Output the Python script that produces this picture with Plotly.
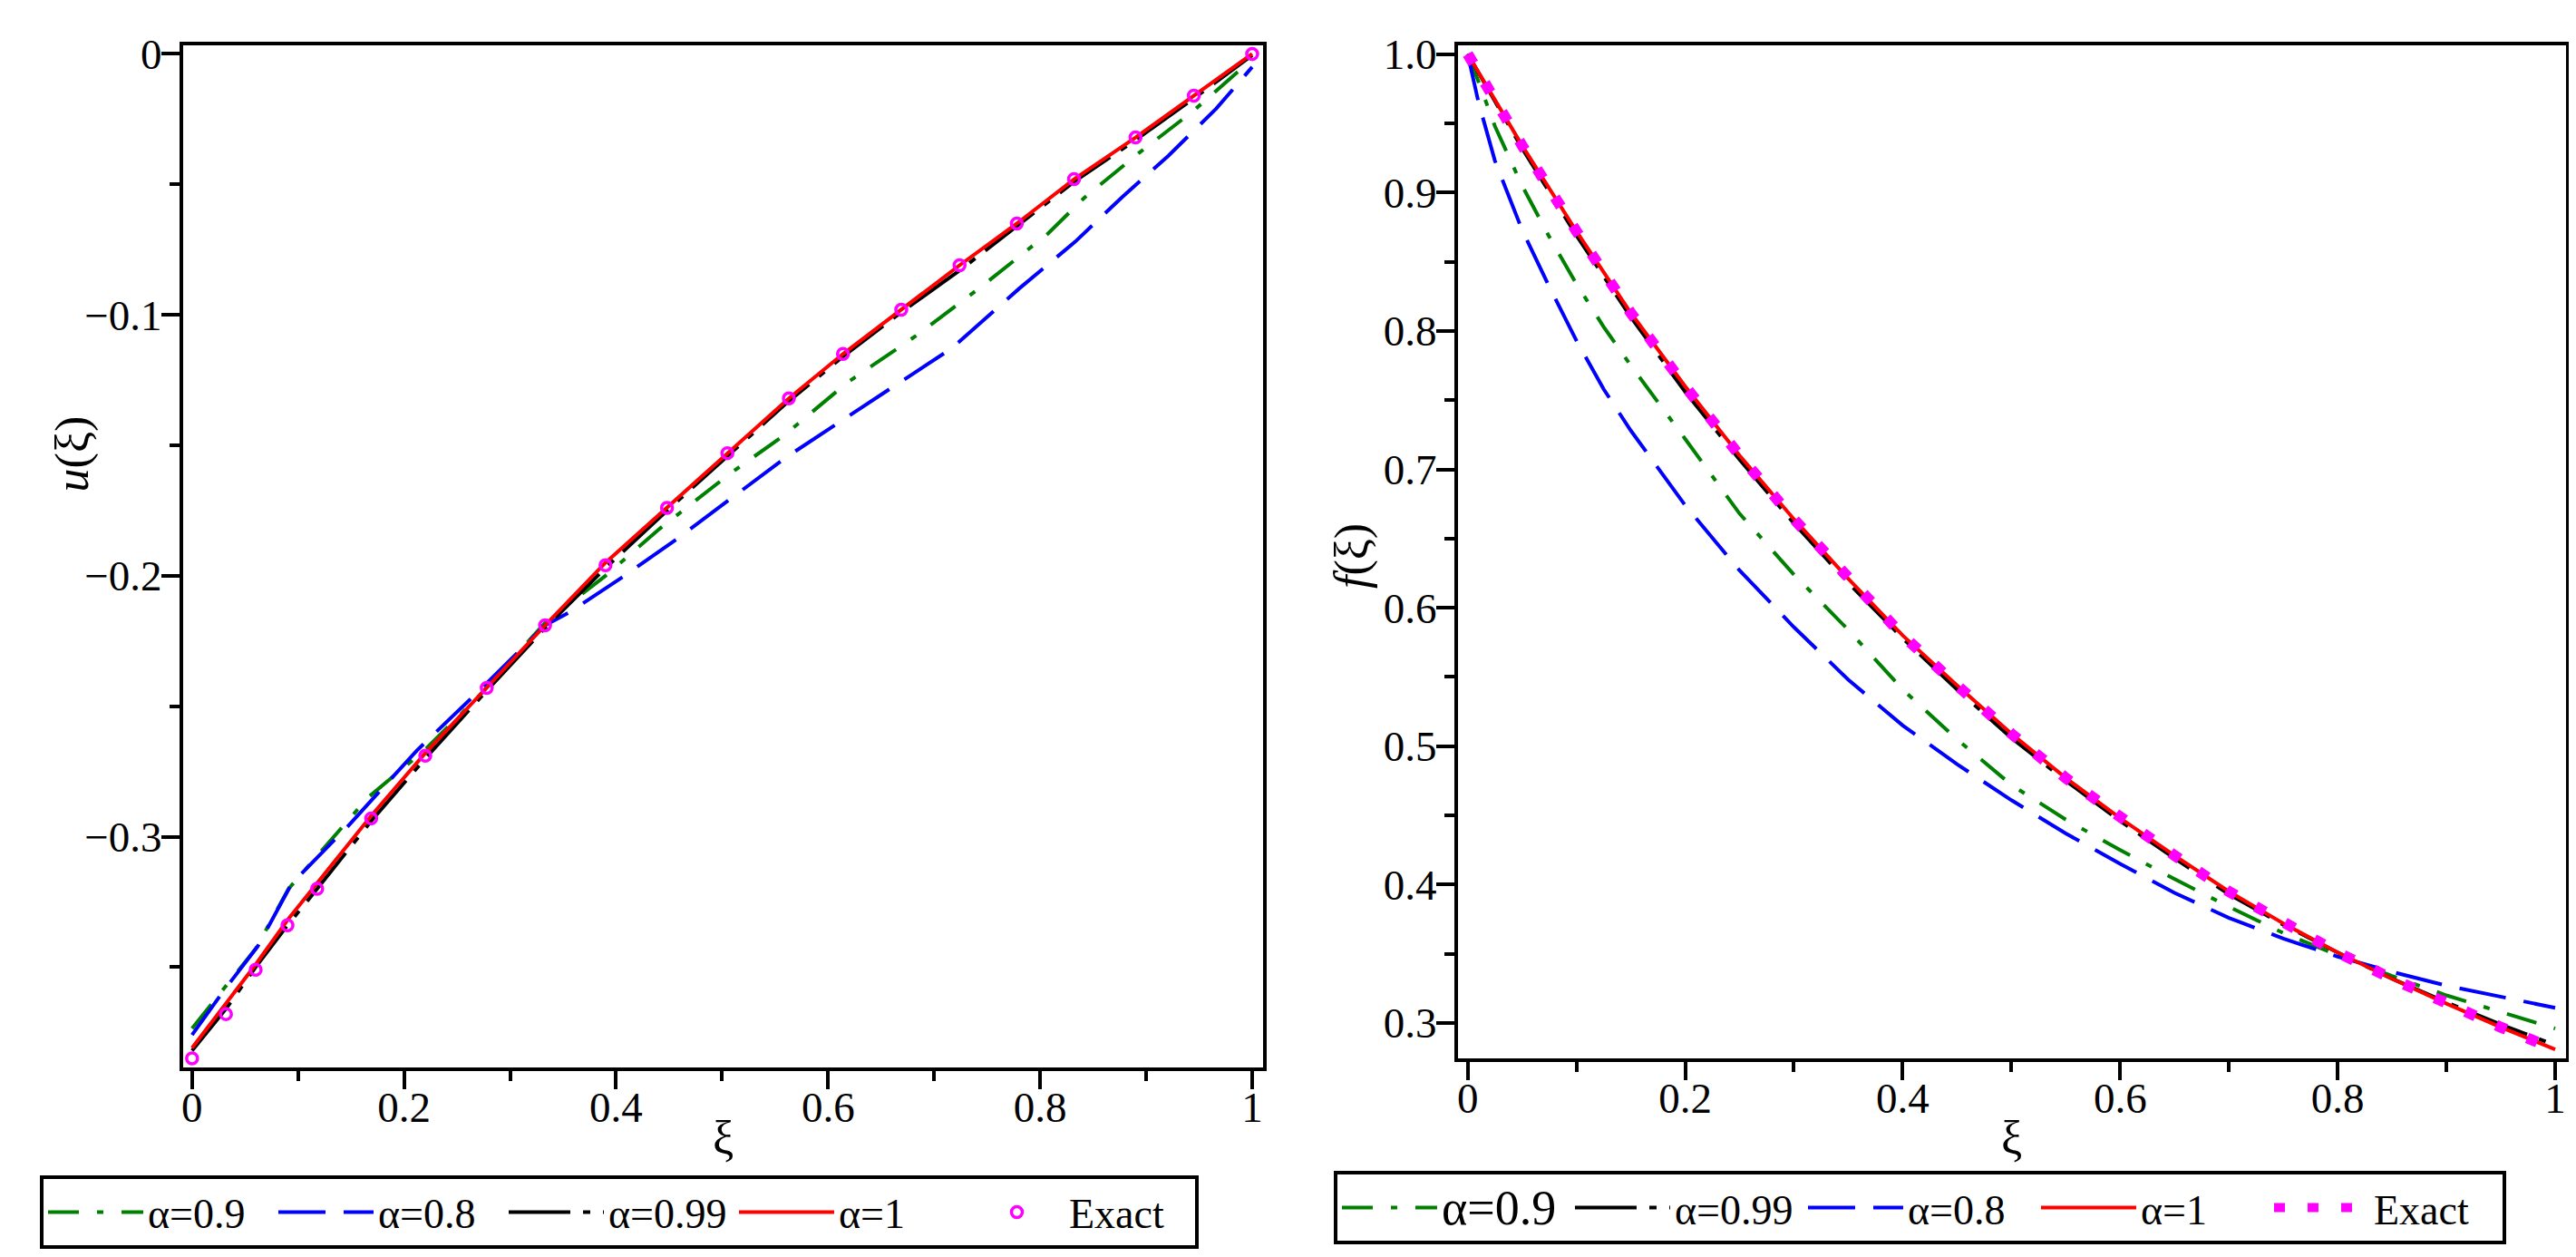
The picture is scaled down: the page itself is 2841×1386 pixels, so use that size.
import plotly.graph_objects as go

W, H = 2841, 1386
FONT = "Liberation Serif"

# ---- left panel : u(xi) ----
xi_u_exact = [0, 0.032, 0.06, 0.09, 0.118, 0.169, 0.22, 0.278, 0.333, 0.39, 0.448,
              0.505, 0.563, 0.614, 0.669, 0.724, 0.778, 0.832, 0.89, 0.945, 1.0]
u_exact = [-0.385, -0.368, -0.351, -0.334, -0.320, -0.293, -0.269, -0.243, -0.219, -0.196, -0.174,
           -0.153, -0.132, -0.115, -0.098, -0.081, -0.065, -0.048, -0.032, -0.016, 0.0]
u_a1 = [-0.381, -0.364, -0.349, -0.332, -0.318, -0.292, -0.268, -0.243, -0.219, -0.195, -0.174,
        -0.153, -0.132, -0.115, -0.098, -0.081, -0.065, -0.048, -0.032, -0.016, 0.0]
u_a099 = [-0.382, -0.366, -0.350, -0.334, -0.320, -0.294, -0.270, -0.244, -0.220, -0.197, -0.175,
          -0.154, -0.133, -0.116, -0.099, -0.083, -0.066, -0.049, -0.033, -0.017, -0.0005]

xi_u_a09 = [0, 0.03, 0.06, 0.091, 0.166, 0.219, 0.271, 0.333, 0.39, 0.441, 0.507,
            0.559, 0.618, 0.683, 0.742, 0.807, 0.842, 0.893, 0.944, 1.0]
u_a09 = [-0.3735, -0.358, -0.343, -0.320, -0.285, -0.267, -0.246, -0.218, -0.200, -0.182, -0.161,
         -0.146, -0.126, -0.108, -0.090, -0.069, -0.055, -0.038, -0.022, -0.002]

xi_u_a08 = [0, 0.03, 0.062, 0.094, 0.147, 0.212, 0.271, 0.333, 0.356, 0.408, 0.457,
            0.507, 0.559, 0.611, 0.664, 0.716, 0.78, 0.833, 0.877, 0.921, 0.966, 1.0]
u_a08 = [-0.376, -0.359, -0.342, -0.318, -0.296, -0.267, -0.244, -0.219, -0.214, -0.200, -0.186,
         -0.171, -0.155, -0.141, -0.127, -0.113, -0.090, -0.072, -0.055, -0.039, -0.021, -0.005]

# ---- right panel : f(xi) ----
xi_f = [0, 0.05, 0.1, 0.15, 0.2, 0.25, 0.3, 0.35, 0.4, 0.45, 0.5,
        0.55, 0.6, 0.65, 0.7, 0.75, 0.8, 0.85, 0.9, 0.95, 1.0]
f_exact = [1.0, 0.934, 0.872, 0.813, 0.760, 0.710, 0.664, 0.621, 0.580, 0.544, 0.509,
           0.477, 0.448, 0.421, 0.395, 0.372, 0.351, 0.332, 0.314, 0.297, 0.281]
f_a1 = [1.0, 0.934, 0.872, 0.813, 0.760, 0.710, 0.664, 0.621, 0.580, 0.544, 0.509,
        0.477, 0.448, 0.421, 0.395, 0.372, 0.351, 0.332, 0.314, 0.297, 0.281]
f_a099 = [1.0, 0.932, 0.869, 0.810, 0.756, 0.707, 0.661, 0.618, 0.578, 0.541, 0.506,
          0.475, 0.446, 0.419, 0.393, 0.371, 0.351, 0.332, 0.315, 0.299, 0.284]

xi_f_a = [0, 0.01, 0.025, 0.05, 0.075, 0.1, 0.125, 0.15, 0.2, 0.25, 0.3, 0.35, 0.4,
          0.45, 0.5, 0.55, 0.6, 0.65, 0.7, 0.75, 0.8, 0.85, 0.9, 0.95, 1.0]
f_a09 = [1.0, 0.980, 0.948, 0.905, 0.868, 0.834, 0.803, 0.775, 0.722, 0.668, 0.624, 0.584, 0.541,
         0.505, 0.472, 0.447, 0.425, 0.404, 0.384, 0.365, 0.349, 0.334, 0.320, 0.308, 0.296]
f_a08 = [1.0, 0.965, 0.923, 0.873, 0.832, 0.793, 0.758, 0.728, 0.674, 0.627, 0.586, 0.548, 0.515,
         0.487, 0.461, 0.437, 0.415, 0.394, 0.376, 0.361, 0.348, 0.337, 0.327, 0.319, 0.311]

GREEN, BLUE, RED, MAG = "#008000", "#0000FF", "#FF0000", "#FF00FF"
DASHDOT = "34px,20px,7px,20px"
LONGDASH = "52px,20px"
DASHDOT_BLK = "68px,14px,8px,14px"

fig = go.Figure()

# left panel traces
fig.add_trace(go.Scatter(x=xi_u_a09, y=u_a09, name="α=0.9", mode="lines",
                         line=dict(color=GREEN, width=4, dash=DASHDOT), legendrank=1))
fig.add_trace(go.Scatter(x=xi_u_a08, y=u_a08, name="α=0.8", mode="lines",
                         line=dict(color=BLUE, width=4, dash=LONGDASH), legendrank=2))
fig.add_trace(go.Scatter(x=xi_u_exact, y=u_a099, name="α=0.99", mode="lines",
                         line=dict(color="black", width=4, dash=DASHDOT_BLK), legendrank=3))
fig.add_trace(go.Scatter(x=xi_u_exact, y=u_a1, name="α=1", mode="lines",
                         line=dict(color=RED, width=4), legendrank=4))
fig.add_trace(go.Scatter(x=xi_u_exact, y=u_exact, name="Exact", mode="markers",
                         marker=dict(symbol="circle-open", size=12, color=MAG,
                                     line=dict(color=MAG, width=3.5)), legendrank=5))

# right panel traces
fig.add_trace(go.Scatter(x=xi_f_a, y=f_a09, name='<span style="font-size:54px">α=0.9</span>',
                         mode="lines", line=dict(color=GREEN, width=4, dash=DASHDOT),
                         xaxis="x2", yaxis="y2", legend="legend2", legendrank=1))
fig.add_trace(go.Scatter(x=xi_f_a, y=f_a08, name="α=0.8", mode="lines",
                         line=dict(color=BLUE, width=4, dash=LONGDASH),
                         xaxis="x2", yaxis="y2", legend="legend2", legendrank=3))
fig.add_trace(go.Scatter(x=xi_f, y=f_a099, name="α=0.99", mode="lines",
                         line=dict(color="black", width=4, dash=DASHDOT_BLK),
                         xaxis="x2", yaxis="y2", legend="legend2", legendrank=2))
fig.add_trace(go.Scatter(x=xi_f, y=f_a1, name="α=1", mode="lines",
                         line=dict(color=RED, width=4),
                         xaxis="x2", yaxis="y2", legend="legend2", legendrank=4))
fig.add_trace(go.Scatter(x=xi_f, y=f_exact, name="Exact", mode="lines",
                         line=dict(color=MAG, width=12, dash="12px,25px"),
                         xaxis="x2", yaxis="y2", legend="legend2", legendrank=5))

tickfont = dict(family=FONT, size=47, color="black")
axis_common = dict(showline=True, linecolor="black", linewidth=4, mirror=True,
                   ticks="outside", ticklen=20, tickwidth=4, tickcolor="black",
                   showgrid=False, zeroline=False, tickfont=tickfont)
minor_x = dict(ticks="outside", ticklen=11, tickwidth=4, tickcolor="black", dtick=0.1)
minor_y = dict(ticks="outside", ticklen=11, tickwidth=4, tickcolor="black", dtick=0.05)
legend_font = dict(family=FONT, size=46, color="black")

fig.update_layout(
    width=W, height=H,
    margin=dict(l=0, r=0, t=0, b=0),
    paper_bgcolor="white", plot_bgcolor="white",
    font=dict(family=FONT, size=46, color="black"),
    xaxis=dict(domain=[192 / W, 1384 / W], range=[-0.0085, 1.0103], anchor="y",
               tick0=0, dtick=0.2, minor=minor_x, ticklabelstandoff=-20, **axis_common),
    yaxis=dict(domain=[1 - 1166 / H, 1 - 26 / H], range=[-0.3883, 0.0034], anchor="x",
               tick0=0, dtick=0.1, minor=minor_y, ticklabelstandoff=-10, **axis_common),
    xaxis2=dict(domain=[1599 / W, 2822 / W], range=[-0.009, 1.010], anchor="y2",
                tick0=0, dtick=0.2, minor=minor_x, ticklabelstandoff=-20, **axis_common),
    yaxis2=dict(domain=[1 - 1156 / H, 1 - 26 / H], range=[0.2747, 1.0065], anchor="x2",
                tick0=0, dtick=0.1, tickformat=".1f", minor=minor_y, ticklabelstandoff=-10,
                **axis_common),
    legend=dict(orientation="h", x=34 / W, y=1 - 1287 / H, xanchor="left", yanchor="top",
                bordercolor="black", borderwidth=4, bgcolor="white", itemwidth=105,
                entrywidth=134, entrywidthmode="pixels", font=legend_font),
    legend2=dict(orientation="h", x=1462 / W, y=1 - 1282 / H, xanchor="left", yanchor="top",
                 bordercolor="black", borderwidth=4, bgcolor="white", itemwidth=105,
                 entrywidth=137, entrywidthmode="pixels", font=legend_font),
    showlegend=True,
)

title_font = dict(family=FONT, size=52, color="black")
for tx, ax, ay, ang in [("ξ", 788, 1245, 0), ("ξ", 2210, 1245, 0),
                        ("<i>u</i>(ξ)", 70, 482, -90), ("<i>f</i>(ξ)", 1482, 596, -90)]:
    fig.add_annotation(text=tx, x=ax / W, y=1 - ay / H, xref="paper", yref="paper",
                       xanchor="center", yanchor="middle", showarrow=False,
                       textangle=ang, font=title_font)

fig.write_html("out.html")
